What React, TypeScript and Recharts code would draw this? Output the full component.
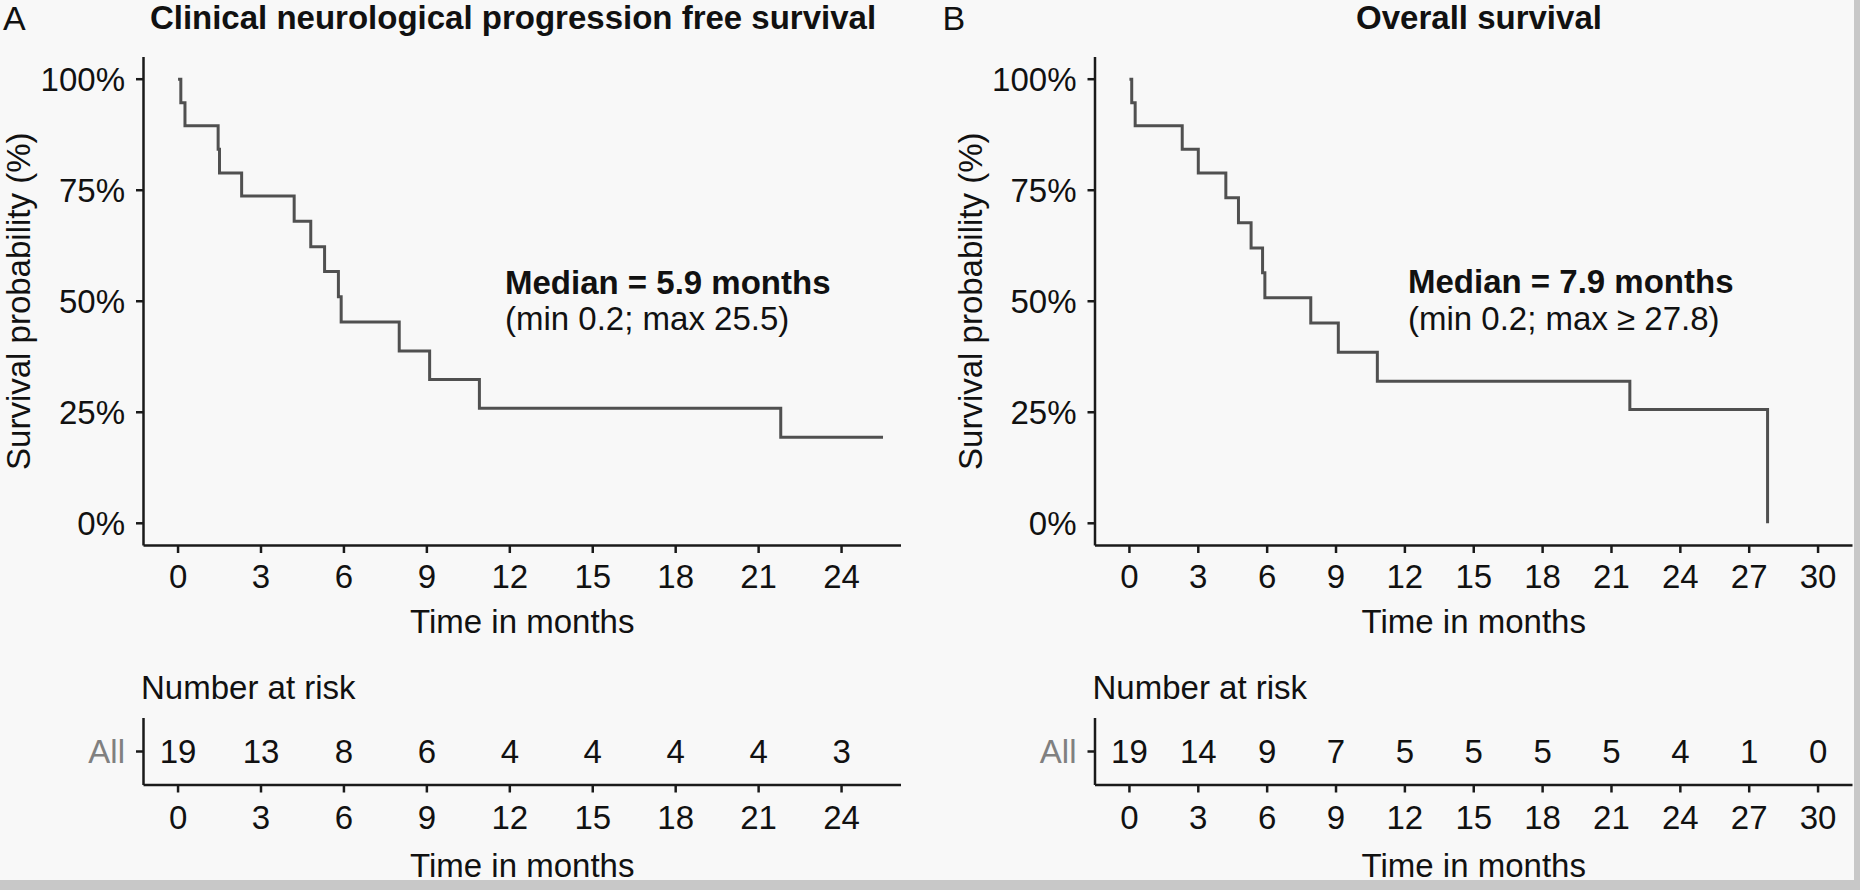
import { LineChart, Line, XAxis, YAxis, ScatterChart, Scatter } from "recharts"

const FONT = "'Liberation Sans', Arial, Helvetica, sans-serif"
const INK = "#111111"
const AXIS = "#1a1a1a"
const CURVE = "#505050"

// A: clinical neurological progression free survival (KM steps)
const pfsTime = [0, 0.1, 0.25, 1.45, 1.5, 2.3, 4.2, 4.8, 5.3, 5.8, 5.9, 8.0, 9.1, 10.9, 21.8, 25.5]
const pfsSurv = [1, 0.947, 0.895, 0.842, 0.789, 0.737, 0.68, 0.623, 0.567, 0.51, 0.453, 0.388, 0.324, 0.259, 0.194, 0.194]
const pfsTicks = [0, 3, 6, 9, 12, 15, 18, 21, 24]
const pfsRisk = [19, 13, 8, 6, 4, 4, 4, 4, 3]

// B: overall survival
const osTime = [0, 0.1, 0.25, 2.3, 3.0, 4.2, 4.75, 5.3, 5.8, 5.9, 7.9, 9.1, 10.8, 21.8, 27.8]
const osSurv = [1, 0.947, 0.895, 0.842, 0.789, 0.733, 0.677, 0.62, 0.564, 0.508, 0.451, 0.385, 0.32, 0.256, 0]
const osTicks = [0, 3, 6, 9, 12, 15, 18, 21, 24, 27, 30]
const osRisk = [19, 14, 9, 7, 5, 5, 5, 5, 4, 1, 0]

const survTicks = [0, 0.25, 0.5, 0.75, 1]

const Y_AXIS_W = 143.5
const PLOT_W = 757.5
const CHART_W = 930

const tickStyle = { fill: INK, fontSize: 33, fontFamily: FONT }
const lineStyle = { stroke: AXIS, strokeWidth: 2.5 }

function RiskNumber(props: any) {
  const { cx, cy, payload } = props
  return (
    <text x={cx} y={cy} dy="0.355em" textAnchor="middle" fontSize={33} fontFamily={FONT} fill={INK}>
      {payload.n}
    </text>
  )
}

function KMPanel({
  left,
  padLeft,
  xDomain,
  xTicks,
  times,
  surv,
  risk,
}: {
  left: number
  padLeft: number
  xDomain: [number, number]
  xTicks: number[]
  times: number[]
  surv: number[]
  risk: number[]
}) {
  const curve = times.map((t, i) => ({ t, s: surv[i] }))
  const riskRows = xTicks.map((t, i) => ({ t, y: 0.5, n: risk[i] }))
  const padRight = CHART_W - padLeft - Y_AXIS_W - PLOT_W

  return (
    <>
      <div style={{ position: "absolute", left, top: 0 }}>
        <LineChart width={CHART_W} height={640} data={curve} margin={{ top: 57, right: padRight, bottom: 0, left: padLeft }}>
          <XAxis
            type="number"
            dataKey="t"
            domain={xDomain}
            ticks={xTicks}
            interval={0}
            allowDataOverflow
            height={94.5}
            tick={tickStyle}
            tickSize={7.5}
            tickMargin={12}
            axisLine={lineStyle}
            tickLine={lineStyle}
            label={{ value: "Time in months", position: "insideBottom", offset: 7, fill: INK, fontSize: 33, fontFamily: FONT }}
          />
          <YAxis
            type="number"
            dataKey="s"
            domain={[-0.05, 1.05]}
            ticks={survTicks}
            interval={0}
            allowDataOverflow
            width={Y_AXIS_W}
            tick={tickStyle}
            tickSize={7.5}
            tickMargin={11}
            axisLine={lineStyle}
            tickLine={lineStyle}
            tickFormatter={(v: number) => `${Math.round(v * 100)}%`}
            label={{
              value: "Survival probability (%)",
              angle: -90,
              position: "insideLeft",
              offset: 18.5,
              fill: INK,
              fontSize: 33,
              fontFamily: FONT,
              style: { textAnchor: "middle" },
            }}
          />
          <Line type="stepAfter" dataKey="s" stroke={CURVE} strokeWidth={3} dot={false} isAnimationActive={false} />
        </LineChart>
      </div>
      <div style={{ position: "absolute", left, top: 700 }}>
        <ScatterChart width={CHART_W} height={190} margin={{ top: 18, right: padRight, bottom: 0, left: padLeft }}>
          <XAxis
            type="number"
            dataKey="t"
            domain={xDomain}
            ticks={xTicks}
            interval={0}
            allowDataOverflow
            height={105}
            tick={tickStyle}
            tickSize={7.5}
            tickMargin={13}
            axisLine={lineStyle}
            tickLine={lineStyle}
            label={{ value: "Time in months", position: "insideBottom", offset: 13, fill: INK, fontSize: 33, fontFamily: FONT }}
          />
          <YAxis
            type="number"
            dataKey="y"
            domain={[0, 1]}
            ticks={[0.5]}
            width={Y_AXIS_W}
            tick={{ ...tickStyle, fill: "#808080" }}
            tickSize={7.5}
            tickMargin={11}
            axisLine={lineStyle}
            tickLine={lineStyle}
            tickFormatter={() => "All"}
          />
          <Scatter data={riskRows} shape={RiskNumber} isAnimationActive={false} />
        </ScatterChart>
      </div>
    </>
  )
}

export default function App() {
  return (
    <div style={{ position: "absolute", left: 0, top: 0, width: 1860, height: 890, background: "#f8f8f8", overflow: "hidden" }}>
      <KMPanel left={0} padLeft={0} xDomain={[-1.25, 26.15]} xTicks={pfsTicks} times={pfsTime} surv={pfsSurv} risk={pfsRisk} />
      <KMPanel left={930} padLeft={21.5} xDomain={[-1.5, 31.5]} xTicks={osTicks} times={osTime} surv={osSurv} risk={osRisk} />

      <svg width={1860} height={890} style={{ position: "absolute", left: 0, top: 0, pointerEvents: "none" }} fontFamily={FONT} fill={INK}>
        <text x={3} y={30} fontSize={34}>A</text>
        <text x={513} y={29.3} fontSize={33} fontWeight="bold" textAnchor="middle">Clinical neurological progression free survival</text>
        <text x={505} y={293.5} fontSize={33} fontWeight="bold">Median = 5.9 months</text>
        <text x={505} y={330} fontSize={33}>(min 0.2; max 25.5)</text>
        <text x={141} y={698.8} fontSize={33}>Number at risk</text>

        <text x={942.5} y={30} fontSize={34}>B</text>
        <text x={1479} y={29.3} fontSize={33} fontWeight="bold" textAnchor="middle">Overall survival</text>
        <text x={1408} y={293} fontSize={33} fontWeight="bold">Median = 7.9 months</text>
        <text x={1408} y={329.5} fontSize={33}>(min 0.2; max ≥ 27.8)</text>
        <text x={1092.5} y={698.8} fontSize={33}>Number at risk</text>
      </svg>

      <div style={{ position: "absolute", left: 1854, top: 0, width: 6, height: 890, background: "#c8c8c8" }} />
      <div style={{ position: "absolute", left: 0, top: 880, width: 1860, height: 10, background: "#c8c8c8" }} />
    </div>
  )
}
